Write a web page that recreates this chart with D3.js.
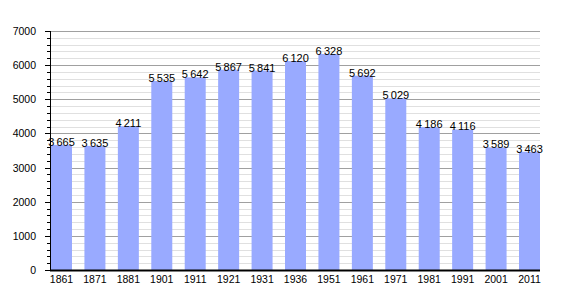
<!DOCTYPE html>
<html>
<head>
<meta charset="utf-8">
<script src="https://cdn.jsdelivr.net/npm/d3@7"></script>
<style>
body { margin: 0; background: #fff; }
text { font-family: "Liberation Sans", Arial, sans-serif; }
</style>
</head>
<body>
<div id="chart"></div>
<script>
var years = ["1861", "1871", "1881", "1901", "1911", "1921", "1931", "1936", "1951", "1961", "1971", "1981", "1991", "2001", "2011"];
var population = [3665, 3635, 4211, 5535, 5642, 5867, 5841, 6120, 6328, 5692, 5029, 4186, 4116, 3589, 3463];
var yTicks = [0, 1000, 2000, 3000, 4000, 5000, 6000, 7000];

var margin = { left: 50, right: 30, top: 31, bottom: 30 };
var width = 570 - margin.left - margin.right;
var height = 300 - margin.top - margin.bottom;

var svg = d3.select('#chart')
	.append('svg')
		.attr('width', 570)
		.attr('height', 300);

var g = svg.append('g')
	.attr('transform', 'translate(' + margin.left + ',' + margin.top + ')');

var x = d3.scaleBand()
	.domain(years)
	.range([1, width])
	.paddingInner(0.372)
	.paddingOuter(0);

var y = d3.scaleLinear()
	.domain([0, 7000])
	.range([height, 0]);

// minor grid every 200
var minor = d3.range(200, 7000, 200).filter(function(v) { return v % 1000 !== 0; });
g.selectAll('.minor')
	.data(minor)
	.enter()
	.append('line')
		.attr('x1', 0)
		.attr('x2', width)
		.attr('y1', function(d) { return Math.round(y(d)) + 0.5; })
		.attr('y2', function(d) { return Math.round(y(d)) + 0.5; })
		.attr('stroke', '#e0e0e0');

g.selectAll('.major')
	.data(yTicks.slice(1))
	.enter()
	.append('line')
		.attr('x1', 0)
		.attr('x2', width)
		.attr('y1', function(d) { return Math.round(y(d)) + 0.5; })
		.attr('y2', function(d) { return Math.round(y(d)) + 0.5; })
		.attr('stroke', '#a0a0a0');

// bars
g.selectAll('rect')
	.data(population)
	.enter()
	.append('rect')
		.attr('x', function(d, i) { return x(years[i]); })
		.attr('y', function(d) { return y(d); })
		.attr('width', x.bandwidth())
		.attr('height', function(d) { return height - y(d); })
		.attr('fill', '#99aaff');

// value labels
g.selectAll('.val')
	.data(population)
	.enter()
	.append('text')
		.attr('x', function(d, i) { return x(years[i]) + x.bandwidth() / 2; })
		.attr('y', function(d) { return y(d) + 1; })
		.attr('text-anchor', 'middle')
		.attr('font-size', '11px')
		.attr('fill', '#000')
		.text(function(d) {
			var s = String(d);
			return s.slice(0, s.length - 3) + '\u2009' + s.slice(s.length - 3);
		});

// y axis ticks
g.selectAll('.ytick')
	.data(d3.range(0, 7001, 200))
	.enter()
	.append('line')
		.attr('x1', function(d) { return d % 1000 === 0 ? -5 : -3; })
		.attr('x2', 0)
		.attr('y1', function(d) { return Math.round(y(d)) + 0.5; })
		.attr('y2', function(d) { return Math.round(y(d)) + 0.5; })
		.attr('stroke', '#000');

g.selectAll('.ylab')
	.data(yTicks)
	.enter()
	.append('text')
		.attr('x', -14)
		.attr('y', function(d) { return y(d) + 4; })
		.attr('text-anchor', 'end')
		.attr('font-size', '10.5px')
		.text(function(d) { return d; });

// axis lines
g.append('line')
	.attr('x1', 0.5).attr('x2', 0.5)
	.attr('y1', 0).attr('y2', height)
	.attr('stroke', '#000');
g.append('line')
	.attr('x1', 0).attr('x2', width)
	.attr('y1', height + 0.5).attr('y2', height + 0.5)
	.attr('stroke', '#000')
	.attr('stroke-width', 2);

g.selectAll('.xlab')
	.data(years)
	.enter()
	.append('text')
		.attr('x', function(d) { return x(d) + x.bandwidth() / 2; })
		.attr('y', height + 13)
		.attr('text-anchor', 'middle')
		.attr('font-size', '10.5px')
		.text(function(d) { return d; });
</script>
</body>
</html>
